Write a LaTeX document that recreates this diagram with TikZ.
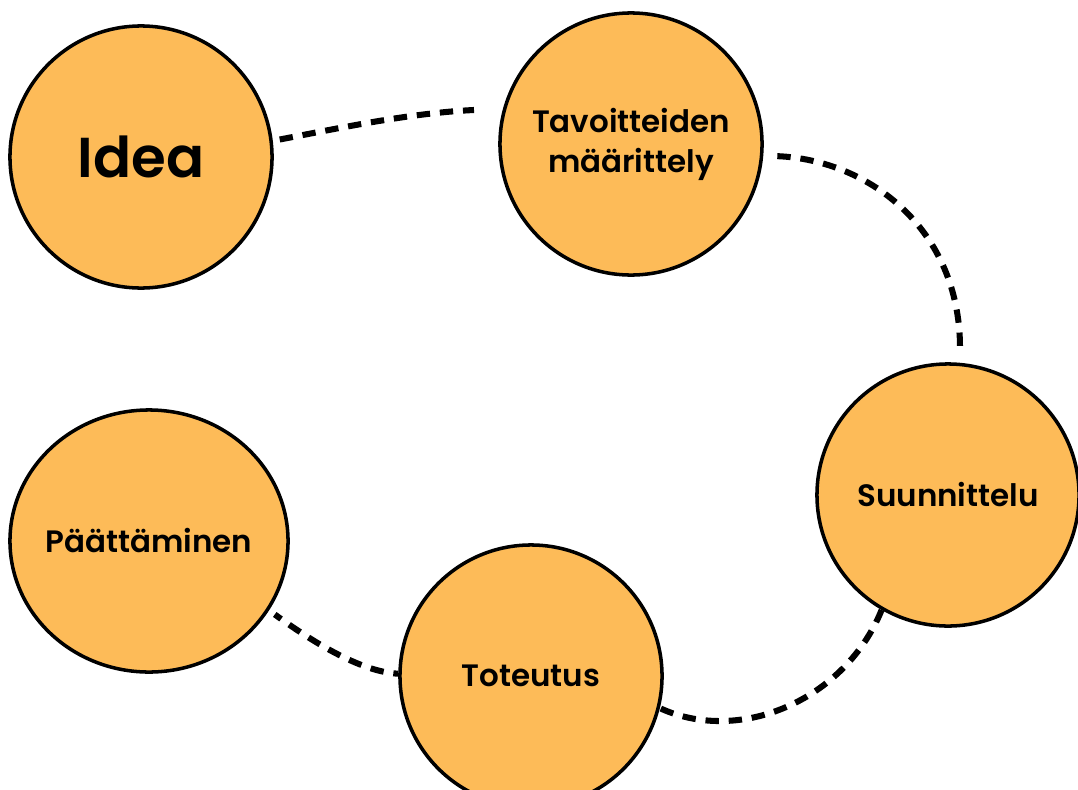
\documentclass[tikz,border=0pt]{standalone}
\usepackage{fontspec}
\setmainfont{Poppins}[BoldFont={Poppins SemiBold}]
\usetikzlibrary{shapes.geometric}
\definecolor{phase}{HTML}{FDBB58}
\begin{document}
\begin{tikzpicture}[x=0.025cm,y=-0.025cm,every node/.style={circle,draw,line width=2.5pt,fill=phase,align=center,font=\bfseries\fontsize{22}{28.5}\selectfont,inner sep=0pt,minimum size=6.55cm},link/.style={line width=4.3pt,dash pattern=on 9.5pt off 7pt}]
\useasboundingbox (0,0) rectangle (1078,789);
\clip (0,0) rectangle (1078,789);
\node (idea) at (141,157) {\fontsize{40}{48}\selectfont Idea};
\node (goals) at (631,144) {Tavoitteiden\\määrittely};
\node (plan) at (948,495) {Suunnittelu};
\node (impl) at (531,676) {Toteutus};
\node[ellipse,inner xsep=-30pt,minimum width=6.95cm,minimum height=6.55cm] (close) at (149,541) {Päättäminen};
\coordinate (g1) at (474,110);\coordinate (g2) at (960,348);
\draw[link,shorten <=5pt] (idea.7) .. controls (340,128) and (410,113) .. (g1);
\draw[link,shorten <=10pt] (goals.-5) .. controls (870,160) and (960,230) .. (g2);
\draw[link] (plan.240) .. controls (845,700) and (740,745) .. (impl.-14);
\draw[link,dash phase=6pt,shorten >=5pt] (impl.179) .. controls (360,672) and (310,640) .. (close.-30);
\end{tikzpicture}
\end{document}
